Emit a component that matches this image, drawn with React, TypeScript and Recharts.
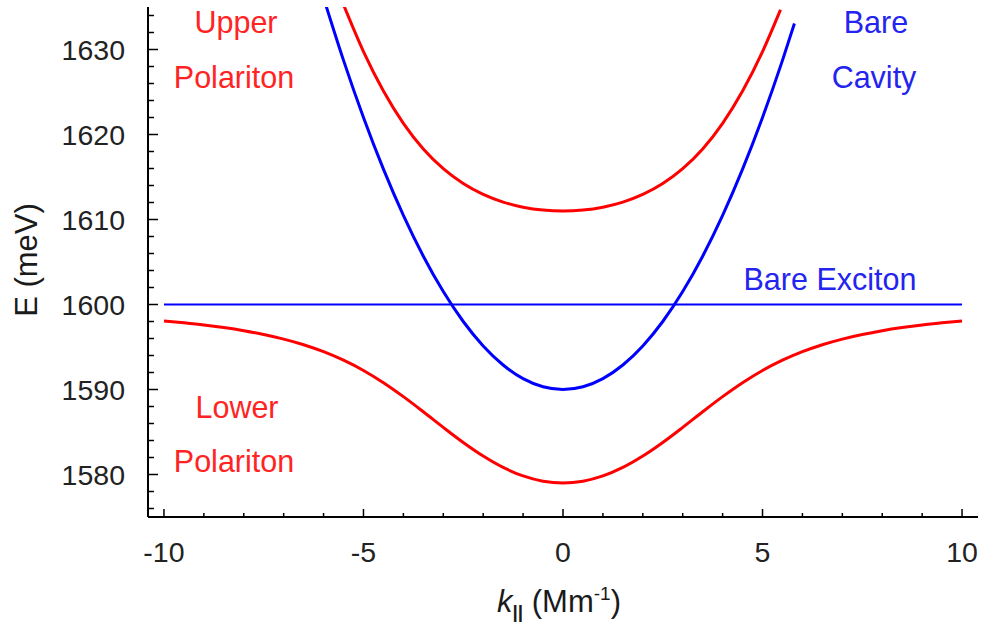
import { LineChart, Line, XAxis, YAxis } from 'recharts'

// wavevector samples (Mm^-1) and energies (meV) for each branch
const lowerK = [-10, -9.5, -9, -8.5, -8, -7.5, -7, -6.5, -6, -5.5, -5, -4.5, -4, -3.5, -3, -2.5, -2, -1.5, -1, -0.5, 0,
  0.5, 1, 1.5, 2, 2.5, 3, 3.5, 4, 4.5, 5, 5.5, 6, 6.5, 7, 7.5, 8, 8.5, 9, 9.5, 10]
const lowerE = [1598.07, 1597.85, 1597.6, 1597.29, 1596.92, 1596.47, 1595.93, 1595.27, 1594.45, 1593.45, 1592.24,
  1590.8, 1589.16, 1587.38, 1585.54, 1583.77, 1582.17, 1580.83, 1579.83, 1579.21, 1579.0,
  1579.21, 1579.83, 1580.83, 1582.17, 1583.77, 1585.54, 1587.38, 1589.16, 1590.8, 1592.24,
  1593.45, 1594.45, 1595.27, 1595.93, 1596.47, 1596.92, 1597.29, 1597.6, 1597.85, 1598.07]

const upperK = [-5.5, -5, -4.5, -4, -3.5, -3, -2.5, -2, -1.5, -1, -0.5, 0, 0.5, 1, 1.5, 2, 2.5, 3, 3.5, 4, 4.5, 5, 5.45]
const upperE = [1635.27, 1629.76, 1625.12, 1621.32, 1618.3, 1615.98, 1614.23, 1612.95, 1612.05, 1611.45, 1611.11, 1611.0,
  1611.11, 1611.45, 1612.05, 1612.95, 1614.23, 1615.98, 1618.3, 1621.32, 1625.12, 1629.76, 1634.68]

const cavityK = [-6, -5.5, -5, -4.5, -4, -3.5, -3, -2.5, -2, -1.5, -1, -0.5, 0, 0.5, 1, 1.5, 2, 2.5, 3, 3.5, 4, 4.5, 5, 5.5, 5.8]
const cavityE = [1636.08, 1628.72, 1622.0, 1615.92, 1610.48, 1605.68, 1601.52, 1598.0, 1595.12, 1592.88, 1591.28, 1590.32,
  1590.0, 1590.32, 1591.28, 1592.88, 1595.12, 1598.0, 1601.52, 1605.68, 1610.48, 1615.92, 1622.0, 1628.72, 1633.06]

const excitonK = [-10, 10]
const excitonE = [1600, 1600]

const xTicks = [-10, -9, -8, -7, -6, -5, -4, -3, -2, -1, 0, 1, 2, 3, 4, 5, 6, 7, 8, 9, 10]
const yTicks = [1576, 1578, 1580, 1582, 1584, 1586, 1588, 1590, 1592, 1594, 1596, 1598, 1600, 1602, 1604, 1606,
  1608, 1610, 1612, 1614, 1616, 1618, 1620, 1622, 1624, 1626, 1628, 1630, 1632, 1634]

const toRows = (ks: number[], es: number[]) => ks.map((k, i) => ({ k, E: es[i] }))

const lowerData = toRows(lowerK, lowerE)
const upperData = toRows(upperK, upperE)
const cavityData = toRows(cavityK, cavityE)
const excitonData = toRows(excitonK, excitonE)

const FONT = '"Liberation Sans", Arial, Helvetica, sans-serif'
const RED = '#ff0000'
const BLUE = '#0000ff'
const LABEL_RED = '#ff2424'
const LABEL_BLUE = '#2424f0'

function XTick(props: any) {
  const { x, y, payload } = props
  const v = payload.value as number
  const major = v % 5 === 0
  return (
    <g>
      <line x1={x} x2={x} y1={y} y2={y - (major ? 8 : 4)} stroke="#000" strokeWidth={1.5} />
      {major && (
        <text x={x} y={y + 45} textAnchor="middle" fontSize={28.5} fontFamily={FONT} fill="#222">
          {v}
        </text>
      )}
    </g>
  )
}

function YTick(props: any) {
  const { x, y, payload } = props
  const v = payload.value as number
  const major = v % 10 === 0
  return (
    <g>
      <line x1={x} x2={x + (major ? 10 : 6)} y1={y} y2={y} stroke="#000" strokeWidth={1.5} />
      {major && (
        <text x={x - 23} y={y + 10} textAnchor="end" fontSize={28.5} fontFamily={FONT} fill="#222">
          {v}
        </text>
      )}
    </g>
  )
}

export default function App() {
  return (
    <div style={{ position: 'absolute', left: 0, top: 0, background: '#fff' }}>
      <LineChart width={985} height={625} margin={{ top: 7, right: 7, bottom: 0, left: 0 }}>
        <XAxis
          dataKey="k"
          type="number"
          domain={[-10.4, 10.4]}
          ticks={xTicks}
          interval={0}
          tick={<XTick />}
          tickLine={false}
          tickSize={0}
          tickMargin={0}
          axisLine={{ stroke: '#000', strokeWidth: 2 }}
          height={108}
          allowDecimals
        />
        <YAxis
          type="number"
          domain={[1575, 1635]}
          allowDataOverflow
          ticks={yTicks}
          interval={0}
          tick={<YTick />}
          tickLine={false}
          tickSize={0}
          tickMargin={0}
          axisLine={{ stroke: '#000', strokeWidth: 2 }}
          width={148}
        />
        <Line data={excitonData} dataKey="E" type="linear" stroke={BLUE} strokeWidth={2} dot={false} isAnimationActive={false} />
        <Line data={cavityData} dataKey="E" type="monotone" stroke={BLUE} strokeWidth={3} dot={false} isAnimationActive={false} />
        <Line data={upperData} dataKey="E" type="monotone" stroke={RED} strokeWidth={3} dot={false} isAnimationActive={false} />
        <Line data={lowerData} dataKey="E" type="monotone" stroke={RED} strokeWidth={3} dot={false} isAnimationActive={false} />

        <g fontFamily={FONT} fontSize={30.5}>
          <text x={236} y={33} textAnchor="middle" fill={LABEL_RED}>Upper</text>
          <text x={234} y={88} textAnchor="middle" fill={LABEL_RED}>Polariton</text>
          <text x={237} y={418} textAnchor="middle" fill={LABEL_RED}>Lower</text>
          <text x={234} y={472} textAnchor="middle" fill={LABEL_RED}>Polariton</text>
          <text x={876} y={33} textAnchor="middle" fill={LABEL_BLUE}>Bare</text>
          <text x={874} y={88} textAnchor="middle" fill={LABEL_BLUE}>Cavity</text>
          <text x={830} y={290} textAnchor="middle" fill={LABEL_BLUE}>Bare Exciton</text>

          {/* axis titles */}
          <text x={37} y={260} textAnchor="middle" fill="#1a1a1a" fontSize={31} transform="rotate(-90, 37, 260)">E (meV)</text>
          <text x={559} y={612} textAnchor="middle" fill="#1a1a1a" fontSize={31}>
            <tspan fontStyle="italic">k</tspan>
            <tspan dy={6} fontSize={19} fontWeight="bold">||</tspan>
            <tspan dy={-6}> (Mm</tspan>
            <tspan dy={-12} fontSize={19}>-1</tspan>
            <tspan dy={12}>)</tspan>
          </text>
        </g>
      </LineChart>
    </div>
  )
}
